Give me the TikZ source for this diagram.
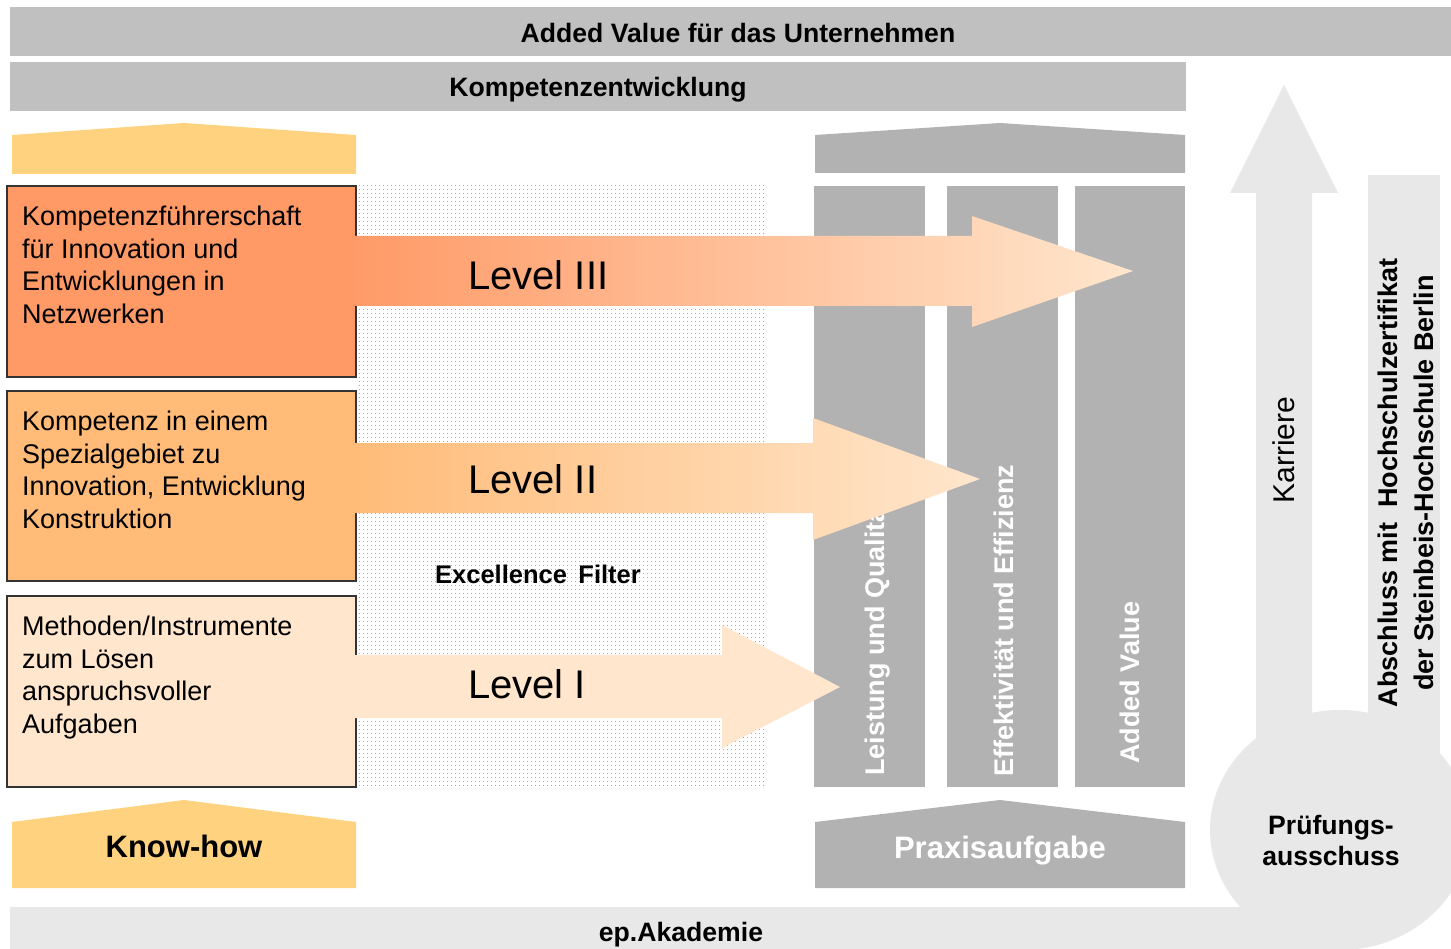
\documentclass[tikz,border=0pt]{standalone}
\usepackage{fontspec}
\setmainfont{Liberation Sans}
\usetikzlibrary{patterns.meta}
\definecolor{bargray}{HTML}{C0C0C0}
\definecolor{pillargray}{HTML}{B2B2B2}
\definecolor{palegray}{HTML}{E8E8E8}
\definecolor{lvlthree}{HTML}{FF9966}
\definecolor{lvltwo}{HTML}{FFBB77}
\definecolor{lvlone}{HTML}{FFE6CC}
\definecolor{knowhow}{HTML}{FFD27F}
\begin{document}
\begin{tikzpicture}[x=1pt,y=-1pt,
    bold/.style={inner sep=0pt, font=\bfseries\fontsize{26.6}{31}\selectfont},
    boxtext/.style={anchor=north west, inner sep=0pt, align=left, font=\fontsize{27}{32.5}\selectfont},
    leveltext/.style={anchor=base west, inner sep=0pt, font=\fontsize{40}{40}\selectfont},
    pillartext/.style={anchor=west, rotate=90, inner sep=0pt, text=white, font=\bfseries\fontsize{27}{27}\selectfont},
    levelbox/.style={draw=black!80, line width=1.2pt}]
  	\useasboundingbox (0,0) rectangle (1451,949);
  	\clip (0,0) rectangle (1451,949);
  	\fill[white] (0,0) rectangle (1451,949);

  	\fill[bargray] (10,7) rectangle (1451,56);
  	\fill[bargray] (10,62) rectangle (1186,111);
  	\node[bold, anchor=base] (addval) at (738,43) {Added Value für das Unternehmen};
  	\node[bold, anchor=base] (kompetenz) at (598,97) {Kompetenzentwicklung};

  	\fill[palegray] (1256,780) -- (1256,193) -- (1230,193) -- (1284,85) -- (1338,193) -- (1312,193) -- (1312,780) -- cycle;
  	\fill[palegray] (1368,175) rectangle (1440,790);
  	\fill[palegray] (1340,830) ellipse [x radius=130, y radius=120];
  	\fill[palegray] (10,907) rectangle (1340,949);
  	\node[rotate=90, inner sep=0pt, font=\fontsize{30}{30}\selectfont] (karriere) at (1284,450) {Karriere};
  	\node[rotate=90, align=center, inner sep=0pt, font=\bfseries\fontsize{27}{36}\selectfont] (abschluss) at (1406,483)
  	  {Abschluss mit\ \ Hochschulzertifikat\\der Steinbeis-Hochschule Berlin};
  	\node[bold, align=center] (pruefung) at (1331,840) {Prüfungs-\\ausschuss};
  	\node[bold, anchor=base] (akademie) at (681,941) {ep.Akademie};

  	\fill[knowhow] (12,174) -- (12,135) -- (184,123) -- (356,135) -- (356,174) -- cycle;
  	\fill[pillargray] (815,173) -- (815,135) -- (1000,123) -- (1185,135) -- (1185,173) -- cycle;
  	\fill[knowhow] (12,888) -- (12,822) -- (184,800) -- (356,822) -- (356,888) -- cycle;
  	\fill[pillargray] (815,888) -- (815,822) -- (1000,800) -- (1185,822) -- (1185,888) -- cycle;
  	\node[anchor=base, inner sep=0pt, font=\bfseries\fontsize{31}{31}\selectfont] (knowhowtext) at (184,857) {Know-how};
  	\node[anchor=base, inner sep=0pt, text=white, font=\bfseries\fontsize{31}{31}\selectfont] (praxis) at (1000,858) {Praxisaufgabe};

  	\fill[pattern={Dots[distance=4pt, radius=0.6pt]}, pattern color=black!45] (356,186) rectangle (765,787);

  	\foreach \a/\b in {814/925, 947/1058, 1075/1185}
  	  \fill[pillargray] (\a,186) rectangle (\b,787);
  	\node[pillartext] (leistung) at (878,776) {Leistung und Qualität};
  	\node[pillartext] (effekt) at (1004,777) {Effektivität und Effizienz};
  	\node[pillartext] (addedvalue) at (1130,764) {Added Value};

  	\filldraw[levelbox, fill=lvlthree] (7,186) rectangle (356,377);
  	\filldraw[levelbox, fill=lvltwo] (7,391) rectangle (356,581);
  	\filldraw[levelbox, fill=lvlone] (7,596) rectangle (356,787);
  	\node[boxtext] (tthree) at (22,206) {Kompetenzführerschaft\\für Innovation und\\Entwicklungen in\\Netzwerken};
  	\node[boxtext] (ttwo) at (22,411) {Kompetenz in einem\\Spezialgebiet zu\\Innovation, Entwicklung\\Konstruktion};
  	\node[boxtext] (tone) at (22,616) {Methoden/Instrumente\\zum Lösen\\anspruchsvoller\\Aufgaben};

  	\shade[left color=lvlthree, right color=lvlone] (340,236) -- (972,236) -- (972,216) -- (1133,271) -- (972,327) -- (972,306) -- (340,306) -- cycle;
  	\shade[left color=lvltwo, right color=lvlone] (340,443) -- (813,443) -- (813,418) -- (980,479) -- (813,540) -- (813,513) -- (340,513) -- cycle;
  	\fill[lvlone] (340,655) -- (722,655) -- (722,625) -- (840,687) -- (722,748) -- (722,718) -- (340,718) -- cycle;
  	\node[leveltext] (levelthree) at (468,290) {Level III};
  	\node[leveltext] (leveltwo) at (468,493) {Level II};
  	\node[leveltext] (levelone) at (468,698) {Level I};

  	\node[anchor=base west, inner sep=0pt, font=\bfseries\fontsize{25.5}{25.5}\selectfont] (filter) at (435,583) {Excellence\hspace{0.45em}Filter};
\end{tikzpicture}
\end{document}
